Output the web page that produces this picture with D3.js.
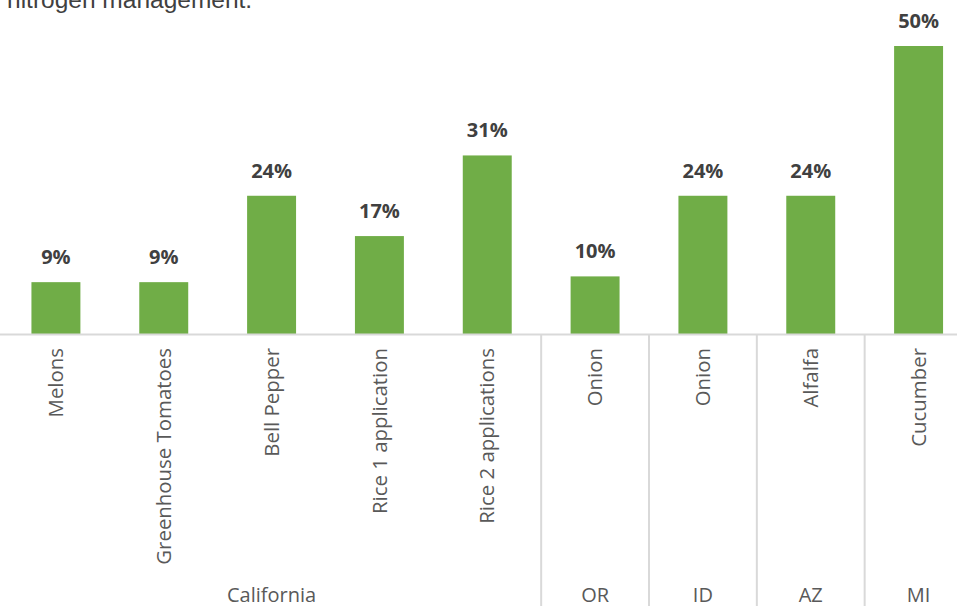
<!DOCTYPE html>
<html>
<head>
<meta charset="utf-8">
<script src="https://cdn.jsdelivr.net/npm/d3@7"></script>
<style>
  html,body{margin:0;padding:0;background:#fff;overflow:hidden;}
  svg{display:block;}
</style>
</head>
<body>
<svg id="chart" width="957" height="606"></svg>
<script>
const categories=["Melons","Greenhouse Tomatoes","Bell Pepper","Rice 1 application","Rice 2 applications","Onion","Onion","Alfalfa","Cucumber"];
const regions=["California","California","California","California","California","OR","ID","AZ","MI"];
const values=[9,9,24,17,31,10,24,24,50];

const svg=d3.select("#chart");
const w=957,h=606;
const base=334;
const ids=categories.map((c,i)=>i);

const x=d3.scaleBand().domain(ids).range([2,972.5]).paddingInner(0.546).paddingOuter(0.273);
const y=d3.scaleLinear().domain([0,50]).range([base,46]);

// title fragment cut off at the top
svg.append("text")
  .attr("x",7).attr("y",8)
  .attr("font-family","Liberation Sans, Arial, sans-serif")
  .attr("font-size","24.5px")
  .attr("fill","#404040")
  .text("nitrogen management.");

svg.selectAll(".bar")
  .data(values)
  .enter().append("rect")
  .attr("class","bar")
  .attr("x",(d,i)=>x(i))
  .attr("y",d=>y(d))
  .attr("width",x.bandwidth())
  .attr("height",d=>base-y(d))
  .attr("fill","#70ad47");

svg.selectAll(".val")
  .data(values)
  .enter().append("text")
  .attr("class","val")
  .attr("x",(d,i)=>x(i)+x.bandwidth()/2)
  .attr("y",d=>y(d)-18)
  .attr("text-anchor","middle")
  .attr("font-family","Open Sans, sans-serif")
  .attr("font-weight","bold")
  .attr("font-size","20px")
  .attr("fill","#404040")
  .text(d=>d+"%");

// axis line
svg.append("line")
  .attr("x1",0).attr("x2",w)
  .attr("y1",base+0.5).attr("y2",base+0.5)
  .attr("stroke","#d9d9d9").attr("stroke-width",2);

// category labels, rotated
svg.selectAll(".cat")
  .data(categories)
  .enter().append("text")
  .attr("class","cat")
  .attr("transform",(d,i)=>`translate(${x(i)+x.bandwidth()/2},348) rotate(-90)`)
  .attr("dy","0.35em")
  .attr("text-anchor","end")
  .attr("font-family","Open Sans, sans-serif")
  .attr("font-size","20.4px")
  .attr("fill","#595959")
  .text(d=>d);

// region groups
const groups=[];
regions.forEach((r,i)=>{
  const g=groups[groups.length-1];
  if(g && g.name===r) g.end=i; else groups.push({name:r,start:i,end:i});
});
const edge=i=>x(i)-x.step()*x.paddingInner()/2;

svg.selectAll(".divider")
  .data(groups.slice(1))
  .enter().append("line")
  .attr("class","divider")
  .attr("x1",d=>edge(d.start)).attr("x2",d=>edge(d.start))
  .attr("y1",base).attr("y2",h)
  .attr("stroke","#d9d9d9").attr("stroke-width",2);

svg.selectAll(".region")
  .data(groups)
  .enter().append("text")
  .attr("class","region")
  .attr("x",d=>(edge(d.start)+edge(d.end)+x.step())/2)
  .attr("y",602)
  .attr("text-anchor","middle")
  .attr("font-family","Open Sans, sans-serif")
  .attr("font-size","20px")
  .attr("fill","#595959")
  .text(d=>d.name);
</script>
</body>
</html>
